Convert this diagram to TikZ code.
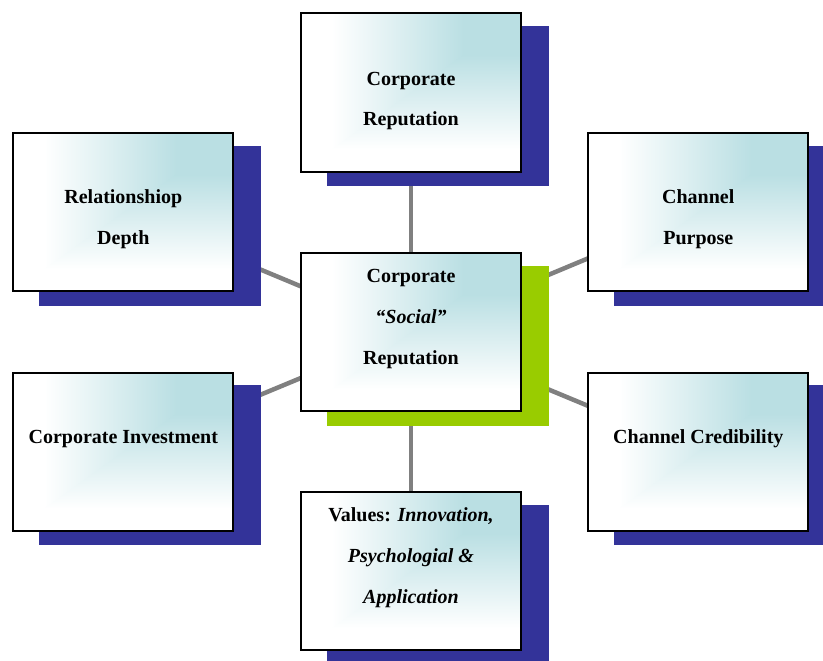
\documentclass[tikz,border=0pt]{standalone}
\usepackage{fontspec}
\setmainfont{Liberation Serif}
\usetikzlibrary{shadows,backgrounds}
\definecolor{navyshadow}{RGB}{51,51,153}
\definecolor{limeshadow}{RGB}{153,204,0}
\definecolor{boxteal}{RGB}{186,223,227}
\definecolor{linkgray}{RGB}{128,128,128}
\pgfdeclarehorizontalshading{hshade}{100bp}{color(0bp)=(white); color(32bp)=(white); color(62bp)=(boxteal); color(100bp)=(boxteal)}
\pgfdeclareverticalshading{vshade}{100bp}{color(0bp)=(white); color(32bp)=(white); color(62bp)=(boxteal); color(100bp)=(boxteal)}
\begin{document}
\begin{tikzpicture}[x=1pt,y=-1pt,
  card/.style={draw=black, line width=2pt, minimum width=220pt, minimum height=158pt, inner sep=0pt,
    shading=vshade, shade,
    path picture={\shade[shading=hshade] (path picture bounding box.north west) -- (path picture bounding box.north east) -- (path picture bounding box.south west) -- cycle;}},
  navyshad/.style={general shadow={shadow xshift=27pt, shadow yshift=-13.3pt, fill=navyshadow, draw=navyshadow, line width=2pt}},
  limeshad/.style={general shadow={shadow xshift=27pt, shadow yshift=-13.3pt, fill=limeshadow, draw=limeshadow, line width=2pt}},
  lbl/.style={inner sep=0pt, anchor=base, font=\bfseries\fontsize{20}{40.5}\selectfont},
  lbl3/.style={inner sep=0pt, anchor=base, font=\bfseries\fontsize{20}{41.2}\selectfont},
  link/.style={draw=linkgray, line width=4.5pt}]
\useasboundingbox (0,0) rectangle (823,661);
\clip (0,0) rectangle (823,661);
\node[card, navyshad] (T) at (411,92.5) {};
\node[card, navyshad] (LT) at (123.3,212.3) {};
\node[card, navyshad] (RT) at (698.3,212.3) {};
\node[card, limeshad] (C) at (411,332.3) {};
\node[card, navyshad] (LB) at (123.3,451.7) {};
\node[card, navyshad] (RB) at (698.3,451.7) {};
\node[card, navyshad] (B) at (411,571.3) {};
\begin{scope}[on background layer]
\draw[link] (C.center) -- (T.center);
\draw[link] (C.center) -- (LT.center);
\draw[link] (C.center) -- (RT.center);
\draw[link] (C.center) -- (LB.center);
\draw[link] (C.center) -- (RB.center);
\draw[link] (C.center) -- (B.center);
\end{scope}
\node[lbl] (Tt) at (411,85) {\parbox[t]{220pt}{\centering Corporate\\Reputation}};
\node[lbl] (LTt) at (123.3,204) {\parbox[t]{220pt}{\centering Relationshiop\\Depth}};
\node[lbl] (RTt) at (698.3,203.5) {\parbox[t]{220pt}{\centering Channel\\Purpose}};
\node[lbl3] (Ct) at (411,282.5) {\parbox[t]{220pt}{\centering Corporate\\\textit{“Social”}\\Reputation}};
\node[lbl] (LBt) at (123.3,443) {\parbox[t]{220pt}{\centering Corporate Investment}};
\node[lbl] (RBt) at (698.3,443.3) {\parbox[t]{220pt}{\centering Channel Credibility}};
\node[lbl3] (Bt) at (411,521.5) {\parbox[t]{220pt}{\centering Values: \textit{Innovation,}\\\textit{Psychologial \&}\\\textit{Application}}};
\end{tikzpicture}
\end{document}
